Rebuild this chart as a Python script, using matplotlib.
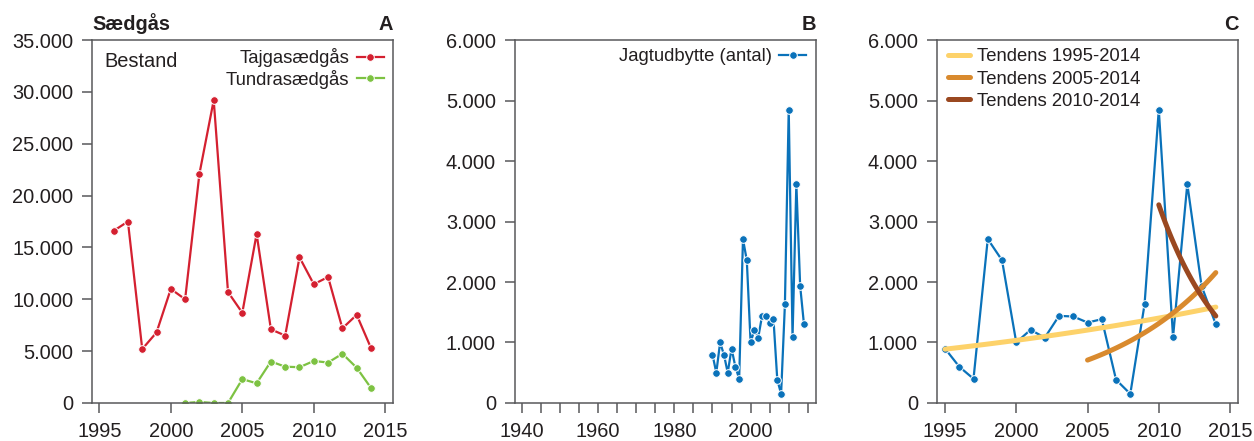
import numpy as np
import matplotlib
matplotlib.use("Agg")
import matplotlib.pyplot as plt
from matplotlib.ticker import FuncFormatter, MultipleLocator

plt.rcParams["font.family"] = ["Liberation Sans", "DejaVu Sans"]

# Population counts (Bestand)
taiga_years = list(range(1996, 2015))
taiga_counts = [16600, 17500, 5200, 6800, 11000, 10000, 22100, 29200, 10700,
                8700, 16300, 7100, 6500, 14050, 11450, 12150, 7200, 8500, 5300]
tundra_years = list(range(2001, 2015))
tundra_counts = [0, 100, 0, 0, 2300, 1900, 4000, 3500, 3450, 4050, 3900,
                 4750, 3400, 1450]

# Hunting bag (Jagtudbytte)
bag_years = list(range(1990, 2015))
bag_counts = [800, 500, 1000, 800, 500, 900, 600, 400, 2710, 2360, 1000, 1210,
              1080, 1440, 1430, 1330, 1385, 385, 150, 1630, 4850, 1090, 3620,
              1935, 1300]

# Trend periods (exponential fits)
trend_periods = [(1995, 2014), (2005, 2014), (2010, 2014)]
trend_labels = ["Tendens 1995-2014", "Tendens 2005-2014", "Tendens 2010-2014"]

TEXT = "#231f20"
SPINE = "#58595b"
RED = "#d42030"
GREEN = "#7dc242"
BLUE = "#0a72ba"
TREND_COLORS = ["#fdd26a", "#d98a2e", "#9a4820"]

FS = 14.4
LEG_FS = 13.3


def thousands(v, pos):
    return f"{int(round(v)):,}".replace(",", ".")


def style_axes(ax):
    for s in ax.spines.values():
        s.set_color(SPINE)
        s.set_linewidth(1.1)
    ax.tick_params(axis="both", which="both", direction="out", length=7.5,
                   width=1.1, color=SPINE, labelcolor=TEXT, labelsize=FS)
    ax.tick_params(axis="x", pad=6.3)
    ax.tick_params(axis="y", pad=6)
    ax.yaxis.set_major_formatter(FuncFormatter(thousands))


def color_legend(leg):
    for t in leg.get_texts():
        t.set_color(TEXT)


fig = plt.figure(figsize=(12.54, 4.41), dpi=100)
H = 0.823
B0 = 0.0862
axA = fig.add_axes([0.0734, B0, 0.240, H])
axB = fig.add_axes([0.4104, B0, 0.2403, H])
axC = fig.add_axes([0.7470, B0, 0.2405, H])

mk = dict(marker="o", markersize=5.5, markeredgecolor="white",
          markeredgewidth=0.7, linewidth=1.6)

# Panel A
axA.plot(taiga_years, taiga_counts, color=RED, label="Tajgasædgås", **mk)
axA.plot(tundra_years, tundra_counts, color=GREEN, label="Tundrasædgås", **mk)
axA.set_xlim(1994.49, 2015.54)
axA.set_ylim(0, 35000)
axA.yaxis.set_major_locator(MultipleLocator(5000))
axA.xaxis.set_major_locator(MultipleLocator(5))
style_axes(axA)
axA.text(0.04, 0.942, "Bestand", transform=axA.transAxes, fontsize=FS,
         color=TEXT, va="center", ha="left")
legA = axA.legend(loc="upper right", markerfirst=False, frameon=False,
                  fontsize=LEG_FS, handlelength=1.45, handletextpad=0.4,
                  labelspacing=0.12, borderaxespad=0.0, borderpad=0.45,
                  bbox_to_anchor=(0.997, 1.0))
color_legend(legA)
axA.set_title("Sædgås", loc="left", fontsize=FS, fontweight="bold",
              color=TEXT, pad=7)
axA.set_title("A", loc="right", fontsize=FS, fontweight="bold",
              color=TEXT, pad=7)

# Panel B
axB.plot(bag_years, bag_counts, color=BLUE, label="Jagtudbytte (antal)", **mk)
axB.set_xlim(1938.1, 2017.15)
axB.set_ylim(0, 6000)
axB.yaxis.set_major_locator(MultipleLocator(1000))
axB.xaxis.set_major_locator(MultipleLocator(20))
axB.xaxis.set_minor_locator(MultipleLocator(5))
style_axes(axB)
legB = axB.legend(loc="upper right", markerfirst=False, frameon=False,
                  fontsize=LEG_FS, handlelength=1.45, handletextpad=0.4,
                  borderaxespad=0.0, borderpad=0.45,
                  bbox_to_anchor=(0.995, 1.0))
color_legend(legB)
axB.set_title("B", loc="right", fontsize=FS, fontweight="bold",
              color=TEXT, pad=7)

# Panel C
years_c = np.array([y for y in bag_years if y >= 1995])
counts_c = np.array([c for y, c in zip(bag_years, bag_counts) if y >= 1995])
axC.plot(years_c, counts_c, color=BLUE, **mk)
for (y0, y1), lab, col in zip(trend_periods, trend_labels, TREND_COLORS):
    sel = (years_c >= y0) & (years_c <= y1)
    slope, icpt = np.polyfit(years_c[sel] - y0, np.log(counts_c[sel]), 1)
    xs = np.linspace(y0, y1, 100)
    axC.plot(xs, np.exp(icpt + slope * (xs - y0)), color=col, linewidth=3.6,
             solid_capstyle="round", label=lab)
axC.set_xlim(1994.42, 2015.58)
axC.set_ylim(0, 6000)
axC.yaxis.set_major_locator(MultipleLocator(1000))
axC.xaxis.set_major_locator(MultipleLocator(5))
style_axes(axC)
legC = axC.legend(loc="upper left", frameon=False, fontsize=LEG_FS,
                  handlelength=1.2, handletextpad=0.35, labelspacing=0.28,
                  borderaxespad=0.0, borderpad=0.45,
                  bbox_to_anchor=(0.01, 1.0))
color_legend(legC)
axC.set_title("C", loc="right", fontsize=FS, fontweight="bold",
              color=TEXT, pad=7)

fig.savefig("out.png", dpi=100)
